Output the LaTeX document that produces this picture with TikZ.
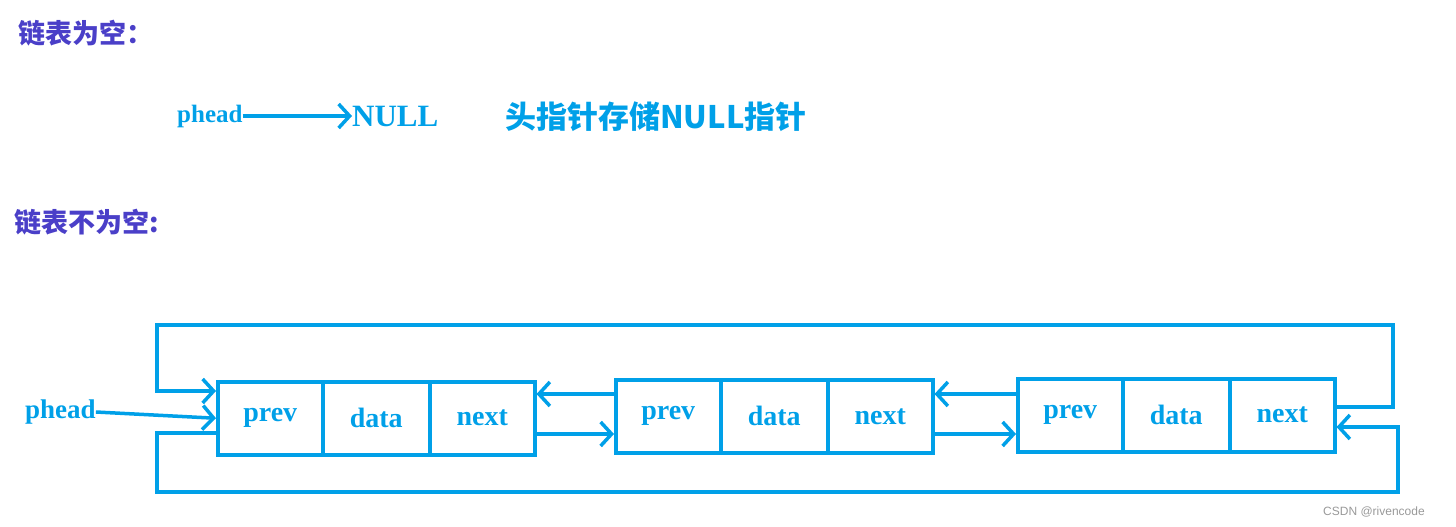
\documentclass[tikz,border=0pt]{standalone}
\usepackage{fontspec}
\setmainfont{Liberation Serif}
\newfontfamily\cjk{Noto Sans CJK SC}
\newfontfamily\wm{Liberation Sans}
\usetikzlibrary{arrows.meta}
\definecolor{cy}{HTML}{00A0E8}
\definecolor{pu}{HTML}{4A3FC8}
\begin{document}
\begin{tikzpicture}[x=1pt,y=-1pt,
  ln/.style={draw=cy,line width=3.5pt},
  ar/.style={ln,-{Straight Barb[length=11pt,width=24pt,line width=3.5pt]}},
  cell/.style={draw=cy,line width=3.5pt,minimum height=73pt,inner sep=0pt,anchor=north west,text=cy,font=\bfseries\fontsize{28}{28}\selectfont},
  lab/.style={text=cy,inner sep=0pt,font=\bfseries\fontsize{28}{28}\selectfont},
  ttl/.style={text=pu,inner sep=0pt,anchor=west,font=\cjk\bfseries\fontsize{27}{27}\selectfont}]
\useasboundingbox (0,0) rectangle (1456,527);
\node[ttl] (t1) at (18,33) {链表为空：};
\node[ttl] (t2) at (14,222) {链表不为空:};
\node[lab,anchor=west,font=\bfseries\fontsize{25}{25}\selectfont] (ph0) at (177,116) {phead};
\node[lab,anchor=west,font=\bfseries\fontsize{31}{31}\selectfont] (nul) at (352,116) {NULL};
\draw[ar] (ph0.east) -- (nul.west);
\node[lab,anchor=west,font=\cjk\bfseries\fontsize{31}{31}\selectfont] (desc) at (505,117) {头指针存储NULL指针};
% nodes
\foreach \n/\x/\y in {1/216/380,2/614/378,3/1016/377}{
  \node[cell,minimum width=105pt] (p\n) at (\x,\y) {prev};
  \node[cell,minimum width=107pt] (d\n) at (\x+105,\y) {data};
  \node[cell,minimum width=105pt] (n\n) at (\x+212,\y) {next};
}
\node[lab,anchor=west,font=\bfseries\fontsize{27}{27}\selectfont] (ph) at (25,412) {phead};
\draw[ar] (ph.east) -- (p1.west);
% between nodes
\draw[ar] (n1.east|-0,434) -- (p2.west|-0,434);
\draw[ar] (p2.west|-0,394) -- (n1.east|-0,394);
\draw[ar] (n2.east|-0,434) -- (p3.west|-0,434);
\draw[ar] (p3.west|-0,394) -- (n2.east|-0,394);
% loops
\coordinate (a1) at (1393,407);
\coordinate (a2) at (1393,325);
\coordinate (a3) at (157,325);
\coordinate (a4) at (157,391);
\draw[ar] (n3.east|-a1) -- (a1) -- (a2) -- (a3) -- (a4) -- (p1.west|-a4);
\coordinate (b1) at (157,433);
\coordinate (b2) at (157,492);
\coordinate (b3) at (1398,492);
\coordinate (b4) at (1398,427);
\draw[ar] (p1.west|-b1) -- (b1) -- (b2) -- (b3) -- (b4) -- (n3.east|-b4);
\node[text=gray!80,inner sep=0pt,anchor=west,font=\wm\fontsize{12}{12}\selectfont] (w) at (1323,512) {CSDN @rivencode};
\end{tikzpicture}
\end{document}
